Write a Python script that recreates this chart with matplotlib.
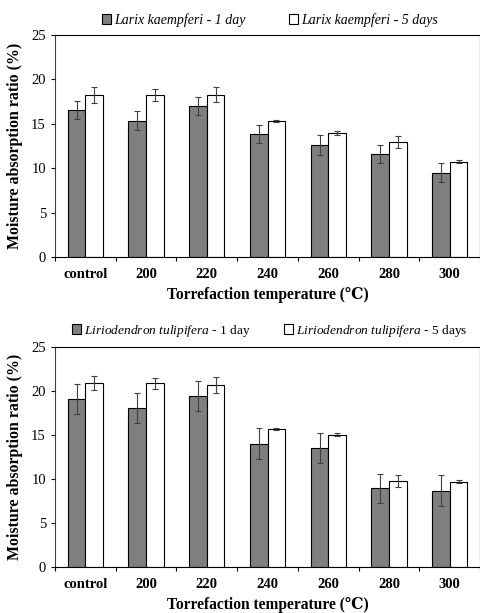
import matplotlib
matplotlib.use("Agg")
import matplotlib.pyplot as plt
import numpy as np
from matplotlib.patches import Patch

categories = ["control", "200", "220", "240", "260", "280", "300"]

larix_1d = [16.6, 15.35, 17.0, 13.9, 12.65, 11.6, 9.5]
larix_1d_err = [1.0, 1.05, 1.05, 1.0, 1.1, 1.05, 1.05]
larix_5d = [18.25, 18.25, 18.3, 15.3, 14.0, 12.95, 10.75]
larix_5d_err = [0.85, 0.65, 0.85, 0.1, 0.25, 0.7, 0.2]

lirio_1d = [19.05, 18.1, 19.4, 14.0, 13.5, 8.95, 8.7]
lirio_1d_err = [1.7, 1.7, 1.7, 1.75, 1.7, 1.65, 1.75]
lirio_5d = [20.9, 20.85, 20.65, 15.65, 15.05, 9.8, 9.7]
lirio_5d_err = [0.8, 0.6, 0.9, 0.1, 0.15, 0.7, 0.15]

yticks = [0, 5, 10, 15, 20, 25]

plt.rcParams['font.family'] = ['Liberation Serif', 'DejaVu Serif']
plt.rcParams['mathtext.fontset'] = 'custom'
plt.rcParams['mathtext.it'] = 'Liberation Serif:italic'
plt.rcParams['mathtext.rm'] = 'Liberation Serif'
plt.rcParams['mathtext.bf'] = 'Liberation Serif:bold'

fig = plt.figure(figsize=(4.81, 6.13), dpi=100)
ax1 = fig.add_axes([0.1143, 0.5803, 0.884, 0.3626])
ax2 = fig.add_axes([0.1143, 0.0745, 0.884, 0.3599])

w = 0.29
x = np.arange(len(categories))

def draw(ax, v1, e1, v5, e5, labels, italic, fs, colsp):
    ek = dict(ecolor='#404040', elinewidth=0.8, capsize=2.2, capthick=0.8)
    ax.bar(x - w/2, v1, w, yerr=e1, color='#7f7f7f', edgecolor='black', linewidth=0.8,
           error_kw=ek)
    ax.bar(x + w/2, v5, w, yerr=e5, color='white', edgecolor='black', linewidth=0.8,
           error_kw=ek)
    ax.set_xlim(-0.5, len(categories) - 0.5)
    ax.set_ylim(0, 25)
    ax.set_yticks(yticks)
    ax.set_yticklabels([str(t) for t in yticks], fontsize=10.5)
    ax.set_xticks(x)
    ax.set_xticklabels(categories, fontsize=10.5, fontweight='bold')
    ax.tick_params(axis='x', which='major', length=0, pad=8)
    ax.set_xticks(np.arange(-0.5, len(categories) + 0.5, 1), minor=True)
    ax.tick_params(axis='x', which='minor', length=3, direction='out', width=0.8)
    ax.tick_params(axis='y', length=3, direction='out', width=0.8)
    for s in ax.spines.values():
        s.set_linewidth(0.8)
    ax.spines['left'].set_color('#404040')
    ax.set_xlabel("Torrefaction temperature (℃)", fontsize=11.2, fontweight='bold', labelpad=4)
    ax.set_ylabel("Moisture absorption ratio (%)", fontsize=11.4, fontweight='bold', labelpad=6)
    handles = [Patch(facecolor='#7f7f7f', edgecolor='black', linewidth=0.8),
               Patch(facecolor='white', edgecolor='black', linewidth=0.8)]
    prop = dict(size=fs, style='italic' if italic else 'normal')
    ax.legend(handles, labels, loc='lower center', bbox_to_anchor=(0.505, 1.0), ncol=2,
              frameon=False, prop=prop, handlelength=0.7, handleheight=0.7,
              handletextpad=0.2, columnspacing=colsp, borderaxespad=0.2)

draw(ax1, larix_1d, larix_1d_err, larix_5d, larix_5d_err,
     ["Larix kaempferi - 1 day", "Larix kaempferi - 5 days"], True, 10, 3.1)
draw(ax2, lirio_1d, lirio_1d_err, lirio_5d, lirio_5d_err,
     [r"$\mathit{Liriodendron\ tulipifera}$ - 1 day", r"$\mathit{Liriodendron\ tulipifera}$ - 5 days"],
     False, 9.6, 2.5)

fig.savefig("out.png", dpi=100)
